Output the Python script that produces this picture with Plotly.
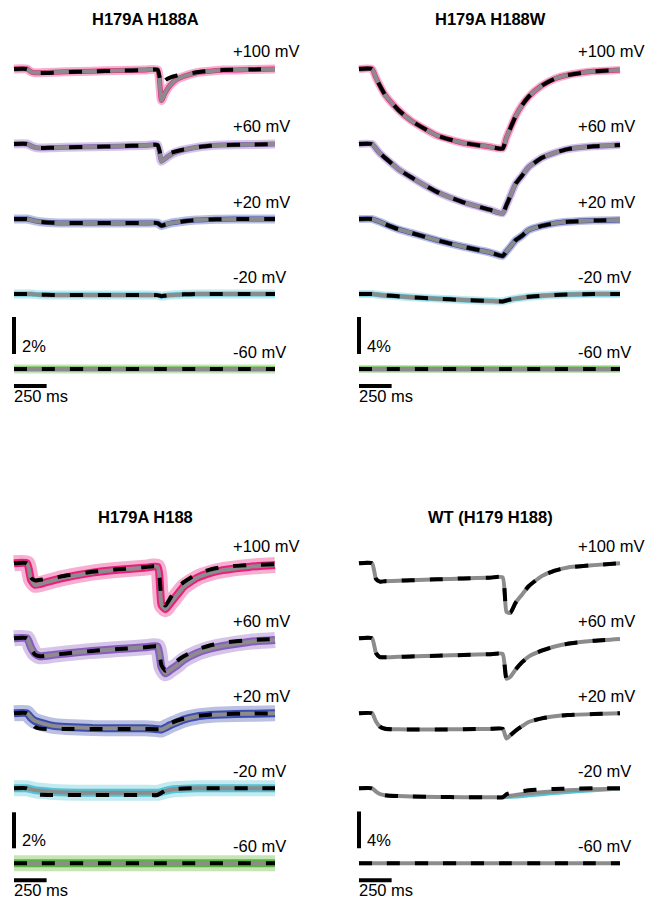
import plotly.graph_objects as go

# ---------------- data ----------------
TIME_MS = [0, 100, 130, 160, 200, 300, 400, 600, 800, 1000, 1100,
           1130, 1160, 1200, 1250, 1300, 1400, 1500, 1600, 1800, 2000]
VOLTAGES = ["+100 mV", "+60 mV", "+20 mV", "-20 mV", "-60 mV"]
TITLES = ["H179A H188A", "H179A H188W", "H179A H188", "WT (H179 H188)"]
SCALE_PCT = [2, 4, 2, 4]
SCALE_MS = 250
SCALE_PCT_LABELS = ["2%", "4%", "2%", "4%"]
SCALE_MS_LABEL = "250 ms"

# H179A H188A (fluorescence change, %)
h188a_fit_p100 = [0, 0, -0.15, -0.2, -0.2, -0.18, -0.15, -0.12, -0.08, -0.05, -0.05,
                  -1.7, -1.25, -0.85, -0.55, -0.4, -0.2, -0.12, -0.06, -0.03, 0]
h188a_dash_p100 = [0, 0, -0.15, -0.2, -0.22, -0.2, -0.17, -0.13, -0.09, -0.06, -0.05,
                   -0.9, -0.6, -0.45, -0.35, -0.28, -0.18, -0.1, -0.06, -0.03, 0]
h188a_fit_p60 = [0, 0, -0.1, -0.18, -0.22, -0.2, -0.18, -0.15, -0.12, -0.08, -0.06,
                 -0.94, -0.78, -0.58, -0.42, -0.32, -0.18, -0.1, -0.06, -0.03, 0]
h188a_dash_p60 = [0, 0, -0.1, -0.18, -0.22, -0.2, -0.18, -0.15, -0.12, -0.08, -0.06,
                  -0.7, -0.6, -0.48, -0.38, -0.3, -0.18, -0.1, -0.06, -0.03, 0]
h188a_fit_p20 = [0, 0, -0.05, -0.1, -0.15, -0.2, -0.22, -0.22, -0.22, -0.22, -0.22,
                 -0.36, -0.3, -0.22, -0.17, -0.12, -0.06, -0.03, -0.01, 0, 0]
h188a_fit_m20 = [0, 0, 0, -0.02, -0.04, -0.05, -0.05, -0.05, -0.05, -0.05, -0.06,
                 -0.12, -0.09, -0.06, -0.04, -0.02, 0, 0, 0, 0, 0]
h188a_fit_m60 = [0, 0, 0, 0, 0, 0, 0, 0, 0, 0, 0, 0, 0, 0, 0, 0, 0, 0, 0, 0, 0]

# H179A H188W
h188w_fit_p100 = [0, 0, -0.95, -1.8, -2.8, -4.4, -5.6, -7.2, -8.0, -8.4, -8.6,
                  -7.4, -6.4, -5.1, -3.9, -3.0, -1.8, -1.05, -0.65, -0.25, -0.1]
h188w_fit_p60 = [0, 0, -0.5, -1.0, -1.5, -2.7, -3.6, -5.2, -6.3, -7.1, -7.5,
                 -6.6, -5.6, -4.3, -3.4, -2.5, -1.5, -0.95, -0.55, -0.25, -0.1]
h188w_fit_p20 = [0, 0, -0.15, -0.3, -0.55, -1.1, -1.5, -2.3, -3.0, -3.6, -4.0,
                 -3.5, -3.0, -2.3, -1.8, -1.2, -0.75, -0.45, -0.3, -0.15, -0.1]
h188w_fit_m20 = [0, 0, -0.05, -0.1, -0.15, -0.25, -0.35, -0.5, -0.65, -0.75, -0.8,
                 -0.7, -0.6, -0.5, -0.4, -0.3, -0.2, -0.1, -0.05, 0, 0]
h188w_fit_m60 = [0, 0, 0, 0, 0, 0, 0, 0, 0, 0, 0, 0, 0, 0, 0, 0, 0, 0, 0, 0, 0]

# H179A H188
h188_fit_p100 = [0, 0, -0.9, -1.2, -1.15, -0.95, -0.78, -0.52, -0.36, -0.25, -0.2,
                 -2.3, -2.55, -2.2, -1.75, -1.3, -0.82, -0.55, -0.38, -0.2, -0.1]
h188_dash_p100 = [0, 0, -0.8, -0.95, -0.92, -0.82, -0.68, -0.47, -0.33, -0.22, -0.18,
                  -2.0, -2.35, -1.9, -1.4, -1.05, -0.6, -0.35, -0.2, -0.1, -0.05]
h188_fit_p60 = [0, 0, -0.5, -0.85, -1.0, -0.92, -0.84, -0.7, -0.6, -0.5, -0.46,
                -1.6, -1.95, -1.75, -1.5, -1.2, -0.82, -0.58, -0.42, -0.2, -0.1]
h188_dash_p60 = [0, 0, -0.55, -0.9, -1.0, -0.92, -0.84, -0.7, -0.6, -0.5, -0.46,
                 -1.5, -1.8, -1.55, -1.25, -1.0, -0.62, -0.4, -0.25, -0.1, -0.05]
h188_fit_p20 = [0, 0, -0.25, -0.42, -0.52, -0.7, -0.76, -0.82, -0.83, -0.83, -0.88,
                -0.9, -0.8, -0.65, -0.5, -0.35, -0.18, -0.1, -0.06, -0.03, 0]
h188_dash_p20 = [0, 0, -0.5, -0.75, -0.85, -0.87, -0.87, -0.87, -0.87, -0.87, -0.88,
                 -0.85, -0.7, -0.55, -0.4, -0.3, -0.15, -0.08, -0.04, -0.02, 0]
h188_fit_m20 = [0, 0, -0.05, -0.1, -0.14, -0.2, -0.23, -0.25, -0.25, -0.25, -0.25,
                -0.2, -0.14, -0.08, -0.04, -0.02, 0, 0, 0, 0, 0]
h188_dash_m20 = [0, 0, -0.2, -0.32, -0.36, -0.37, -0.37, -0.37, -0.37, -0.37, -0.37,
                 -0.25, -0.12, -0.06, -0.03, -0.01, 0, 0, 0, 0, 0]
h188_fit_m60 = [0, 0, 0, 0, 0, 0, 0, 0, 0, 0, 0, 0, 0, 0, 0, 0, 0, 0, 0, 0, 0]

# WT (H179 H188)
wt_fit_p100 = [0, 0, -1.7, -2.0, -1.95, -1.9, -1.85, -1.75, -1.65, -1.57, -1.53,
               -5.3, -5.4, -4.3, -3.4, -2.5, -1.4, -0.8, -0.45, -0.2, 0]
wt_fit_p60 = [0, 0, -1.6, -2.05, -2.07, -2.02, -1.98, -1.9, -1.82, -1.73, -1.7,
              -4.4, -4.2, -3.4, -2.6, -2.0, -1.35, -0.9, -0.6, -0.27, -0.07]
wt_fit_p20 = [0, 0, -0.9, -1.45, -1.68, -1.75, -1.76, -1.76, -1.74, -1.7, -1.68,
              -2.75, -2.4, -1.9, -1.4, -0.95, -0.55, -0.32, -0.18, -0.08, 0]
wt_fit_m20 = [0, 0, -0.35, -0.62, -0.75, -0.85, -0.9, -0.95, -0.97, -0.98, -0.98,
              -0.9, -0.82, -0.72, -0.62, -0.55, -0.42, -0.32, -0.22, -0.1, -0.05]
wt_dash_m20 = [0, 0, -0.35, -0.62, -0.75, -0.85, -0.9, -0.95, -0.97, -0.98, -0.98,
               -0.65, -0.5, -0.38, -0.3, -0.22, -0.12, -0.07, -0.03, 0, 0]
wt_raw_m20 = [0, 0, -0.35, -0.62, -0.75, -0.85, -0.9, -0.95, -0.97, -0.98, -0.98,
              -1.0, -1.0, -0.98, -0.92, -0.85, -0.72, -0.6, -0.48, -0.3, -0.1]
wt_fit_m60 = [0, 0, 0, 0, 0, 0, 0, 0, 0, 0, 0, 0, 0, 0, 0, 0, 0, 0, 0, 0, 0]

# per panel: fit, dashed fit and raw trace for each voltage
PANEL_FIT = [
    [h188a_fit_p100, h188a_fit_p60, h188a_fit_p20, h188a_fit_m20, h188a_fit_m60],
    [h188w_fit_p100, h188w_fit_p60, h188w_fit_p20, h188w_fit_m20, h188w_fit_m60],
    [h188_fit_p100, h188_fit_p60, h188_fit_p20, h188_fit_m20, h188_fit_m60],
    [wt_fit_p100, wt_fit_p60, wt_fit_p20, wt_fit_m20, wt_fit_m60],
]
PANEL_DASH = [
    [h188a_dash_p100, h188a_dash_p60, h188a_fit_p20, h188a_fit_m20, h188a_fit_m60],
    [h188w_fit_p100, h188w_fit_p60, h188w_fit_p20, h188w_fit_m20, h188w_fit_m60],
    [h188_dash_p100, h188_dash_p60, h188_dash_p20, h188_dash_m20, h188_fit_m60],
    [wt_fit_p100, wt_fit_p60, wt_fit_p20, wt_dash_m20, wt_fit_m60],
]
PANEL_RAW = [
    PANEL_FIT[0],
    PANEL_FIT[1],
    PANEL_FIT[2],
    [wt_fit_p100, wt_fit_p60, wt_fit_p20, wt_raw_m20, wt_fit_m60],
]

# ---------------- styling / layout ----------------
W, H = 649, 900
COLORS = ["#E91E7D", "#8A5CC0", "#3D4DAF", "#52C4D6", "#5BB63A"]
FIT_GRAY = "#8C8C8C"
FONT = "Liberation Sans, Arial, Helvetica, sans-serif"
K = 0.1305          # px per ms
SPACING = 75.0      # px between traces

# noise = (core band width, outer halo width)
GEOM = [
    dict(x0=14, base=69.0, ppp=18.5, dx=(0, 324.5), dy=(0, 450), ty=19, noise=(5, 9)),
    dict(x0=359, base=69.0, ppp=9.25, dx=(324.5, 649), dy=(0, 450), ty=19, noise=(5, 8)),
    dict(x0=14, base=563.3, ppp=18.0, dx=(0, 324.5), dy=(450, 900), ty=517, noise=(8, 16)),
    dict(x0=359, base=563.3, ppp=9.17, dx=(324.5, 649), dy=(450, 900), ty=517, noise=(2.5, 0)),
]

fig = go.Figure()
annotations = []
layout_axes = {}

for p, g in enumerate(GEOM):
    sfx = "" if p == 0 else str(p + 1)
    xa, ya = "x" + sfx, "y" + sfx
    ppp = g["ppp"]
    off = SPACING / ppp
    layout_axes["xaxis" + sfx] = dict(
        domain=[g["dx"][0] / W, g["dx"][1] / W],
        range=[(g["dx"][0] - g["x0"]) / K, (g["dx"][1] - g["x0"]) / K],
        visible=False, anchor=ya, fixedrange=True)
    layout_axes["yaxis" + sfx] = dict(
        domain=[1 - g["dy"][1] / H, 1 - g["dy"][0] / H],
        range=[(g["base"] - g["dy"][1]) / ppp, (g["base"] - g["dy"][0]) / ppp],
        visible=False, anchor=xa, fixedrange=True)

    core_w, halo_w = g["noise"]
    for i in range(5):
        shift = -i * off
        raw = [v + shift for v in PANEL_RAW[p][i]]
        fit = [v + shift for v in PANEL_FIT[p][i]]
        dash = [v + shift for v in PANEL_DASH[p][i]]
        if halo_w > 0:
            fig.add_trace(go.Scatter(x=TIME_MS, y=raw, mode="lines", xaxis=xa, yaxis=ya, opacity=0.35,
                                     line=dict(color=COLORS[i], width=halo_w, shape="spline", smoothing=0.5),
                                     hoverinfo="skip", showlegend=False))
        fig.add_trace(go.Scatter(x=TIME_MS, y=raw, mode="lines", xaxis=xa, yaxis=ya,
                                 line=dict(color=COLORS[i], width=core_w, shape="spline", smoothing=0.5),
                                 hoverinfo="skip", showlegend=False))
        fig.add_trace(go.Scatter(x=TIME_MS, y=fit, mode="lines", xaxis=xa, yaxis=ya,
                                 line=dict(color=FIT_GRAY, width=4, shape="spline", smoothing=0.5),
                                 hoverinfo="skip", showlegend=False))
        fig.add_trace(go.Scatter(x=TIME_MS, y=dash, mode="lines", xaxis=xa, yaxis=ya,
                                 line=dict(color="black", width=4, dash="13px,15px", shape="spline", smoothing=0.5),
                                 hoverinfo="skip", showlegend=False))
        # voltage label
        annotations.append(dict(
            x=(g["x0"] + 217) / W, y=1 - (g["base"] + i * SPACING - 17.5) / H,
            xref="paper", yref="paper", xanchor="left", yanchor="middle",
            text=VOLTAGES[i], showarrow=False, font=dict(family=FONT, size=16.5, color="black")))

    last = g["base"] + 4 * SPACING
    # vertical scale bar
    vb = -(4 * SPACING - 15) / ppp
    fig.add_trace(go.Scatter(x=[0, 0], y=[vb, vb + SCALE_PCT[p]], mode="lines", xaxis=xa, yaxis=ya,
                             line=dict(color="black", width=4), hoverinfo="skip", showlegend=False))
    # horizontal scale bar
    hb = -(4 * SPACING + 17) / ppp
    fig.add_trace(go.Scatter(x=[0, SCALE_MS], y=[hb, hb], mode="lines", xaxis=xa, yaxis=ya,
                             line=dict(color="black", width=4), hoverinfo="skip", showlegend=False))
    annotations.append(dict(
        x=(g["x0"] + 6) / W, y=1 - (last - 23) / H, xref="paper", yref="paper",
        xanchor="left", yanchor="middle", text=SCALE_PCT_LABELS[p], showarrow=False,
        font=dict(family=FONT, size=16.5, color="black")))
    annotations.append(dict(
        x=(g["x0"] - 2) / W, y=1 - (last + 26.5) / H, xref="paper", yref="paper",
        xanchor="left", yanchor="middle", text=SCALE_MS_LABEL, showarrow=False,
        font=dict(family=FONT, size=16.5, color="black")))
    # title
    annotations.append(dict(
        x=(g["x0"] + 131) / W, y=1 - g["ty"] / H, xref="paper", yref="paper",
        xanchor="center", yanchor="middle", text="<b>" + TITLES[p] + "</b>", showarrow=False,
        font=dict(family=FONT, size=16.5, color="black")))

fig.update_layout(
    width=W, height=H, autosize=False,
    margin=dict(l=0, r=0, t=0, b=0),
    paper_bgcolor="white", plot_bgcolor="white",
    annotations=annotations, showlegend=False,
    **layout_axes)

fig.write_html("out.html", config={"displayModeBar": False},
               post_script="document.body.style.margin='0';document.body.style.padding='0';"
                           "document.body.style.overflow='hidden';")
